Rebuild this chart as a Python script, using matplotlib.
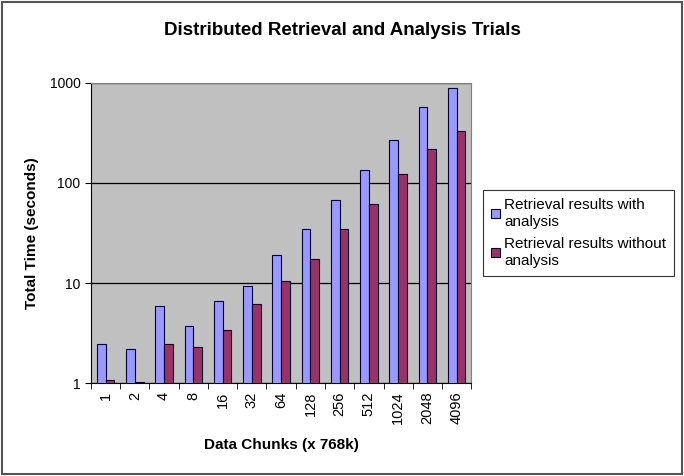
import matplotlib.pyplot as plt
import numpy as np
from matplotlib.patches import Rectangle

# data
chunks = ["1", "2", "4", "8", "16", "32", "64", "128", "256", "512", "1024", "2048", "4096"]
with_analysis = [2.45, 2.2, 5.9, 3.7, 6.6, 9.3, 19, 35, 67, 135, 270, 575, 890]
without_analysis = [1.07, 1.02, 2.45, 2.3, 3.4, 6.2, 10.5, 17.4, 35, 62, 123, 219, 331]

plt.rcParams['font.family'] = ['Liberation Sans', 'DejaVu Sans']

fig = plt.figure(figsize=(6.84, 4.76), dpi=100)
ax = fig.add_axes([0.133, 0.195, 0.556, 0.631])

x = np.arange(len(chunks))
w = 0.3
ax.bar(x - w / 2, with_analysis, w, color="#9999FF", edgecolor="#000033", linewidth=0.8,
       label="Retrieval results with\nanalysis", zorder=3)
ax.bar(x + w / 2, without_analysis, w, color="#993366", edgecolor="#000033", linewidth=0.8,
       label="Retrieval results without\nanalysis", zorder=3)

ax.set_yscale("log")
ax.set_ylim(1, 1000)
ax.set_xlim(-0.5, len(chunks) - 0.5)
ax.set_facecolor("#C0C0C0")
ax.set_yticks([1, 10, 100, 1000])
ax.set_yticklabels(["1", "10", "100", "1000"], fontsize=10)
ax.minorticks_off()
ax.yaxis.grid(True, color="black", linewidth=0.9, zorder=1)

ax.set_xticks(x)
ax.set_xticklabels(chunks, rotation=90, fontsize=10.5)
ax.tick_params(axis="x", length=0, pad=6)
ax.set_xticks(np.arange(len(chunks) + 1) - 0.5, minor=True)
ax.tick_params(axis="x", which="minor", length=4, direction="out")
ax.tick_params(axis="y", length=4, direction="out")

for side in ["top", "right"]:
    ax.spines[side].set_color("#808080")
for side in ["left", "bottom"]:
    ax.spines[side].set_color("black")

ax.set_xlabel("Data Chunks (x 768k)", fontsize=11, fontweight="bold", labelpad=10)
ax.set_ylabel("Total Time (seconds)", fontsize=11, fontweight="bold", labelpad=8)
fig.text(0.5, 0.935, "Distributed Retrieval and Analysis Trials", ha="center", va="center",
         fontsize=13.5, fontweight="bold")

leg = ax.legend(loc="center left", bbox_to_anchor=(1.032, 0.5), borderaxespad=0, fontsize=11,
                frameon=True, fancybox=False, edgecolor="black", handlelength=0.6,
                handleheight=0.6, handletextpad=0.25, borderpad=0.5, labelspacing=0.5)
leg.get_frame().set_linewidth(0.8)
for t in leg.get_texts():
    t.set_linespacing(1.3)

fig.patches.append(Rectangle((0.003, 0.005), 0.994, 0.99, transform=fig.transFigure,
                             fill=False, edgecolor="#555555", linewidth=1.5))

plt.savefig("out.png")
